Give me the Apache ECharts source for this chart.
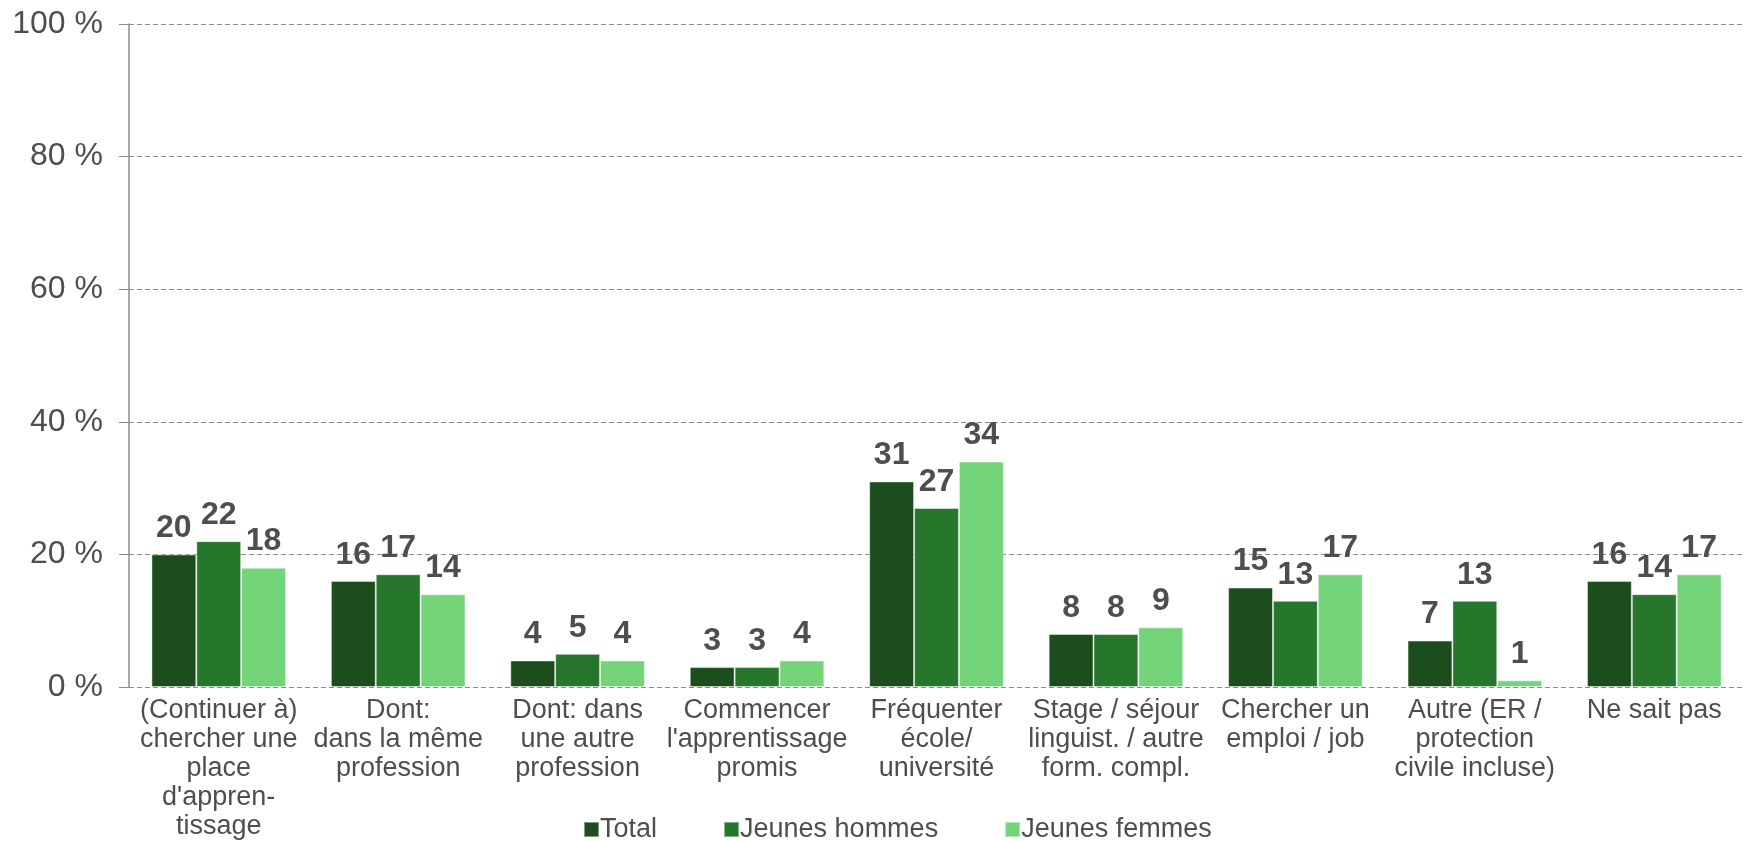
<!DOCTYPE html>
<html>
<head>
<meta charset="utf-8">
<script src="https://cdn.jsdelivr.net/npm/echarts@6/dist/echarts.min.js"></script>
<style>html,body{margin:0;padding:0;background:#fff}#c{width:1746px;height:841px}</style>
</head>
<body>
<div id="c"></div>
<script>
const categories = [
  "(Continuer à)\nchercher une\nplace\nd'appren-\ntissage",
  "Dont:\ndans la même\nprofession",
  "Dont: dans\nune autre\nprofession",
  "Commencer\nl'apprentissage\npromis",
  "Fréquenter\nécole/\nuniversité",
  "Stage / séjour\nlinguist. / autre\nform. compl.",
  "Chercher un\nemploi / job",
  "Autre (ER /\nprotection\ncivile incluse)",
  "Ne sait pas"
];
const seriesNames = ["Total", "Jeunes hommes", "Jeunes femmes"];
const total = [20, 16, 4, 3, 31, 8, 15, 7, 16];
const hommes = [22, 17, 5, 3, 27, 8, 13, 13, 14];
const femmes = [18, 14, 4, 4, 34, 9, 17, 1, 17];
const yTicks = [0, 20, 40, 60, 80, 100];

const colors = ["#1b4e1c", "#26762b", "#73d47a"];
const font = "'Liberation Sans', Arial, sans-serif";

function mk(name, data, color) {
  return {
    name: name,
    type: 'bar',
    data: data,
    barGap: '0%',
    barCategoryGap: '25%',
    itemStyle: { color: color, borderColor: 'rgba(255,255,255,0.45)', borderWidth: 1 },
    label: {
      show: true, position: 'top', distance: 10,
      fontFamily: font, fontSize: 32, fontWeight: 'bold', color: '#4d4f4d'
    }
  };
}

const chart = echarts.init(document.getElementById('c'), null, { renderer: 'canvas' });
chart.setOption({
  animation: false,
  backgroundColor: '#fff',
  grid: { left: 129, right: 2, top: 24, bottom: 154, containLabel: false, outerBoundsMode: 'none' },
  legend: {
    data: seriesNames,
    left: 578, top: 811,
    icon: 'rect', itemWidth: 15, itemHeight: 15, itemGap: 66,
    textStyle: { fontFamily: font, fontSize: 27, color: '#4d4f4d', padding: [0,0,0,-4] }
  },
  xAxis: {
    type: 'category',
    data: categories,
    axisLine: { show: false },
    axisTick: { show: false },
    axisLabel: {
      interval: 0, margin: 9,
      fontFamily: font, fontSize: 27, lineHeight: 29, color: '#4d4f4d', align: 'center'
    }
  },
  yAxis: {
    type: 'value',
    min: yTicks[0], max: yTicks[yTicks.length - 1], interval: yTicks[1] - yTicks[0],
    axisLine: { show: true, lineStyle: { color: '#8c8c8c', width: 1.5 } },
    axisTick: { show: true, length: 10, lineStyle: { color: '#8c8c8c' } },
    axisLabel: {
      formatter: '{value} %', margin: 26,
      fontFamily: font, fontSize: 32, color: '#4d4f4d'
    },
    splitLine: { show: true, lineStyle: { color: '#8c8c8c', type: [5, 3], width: 1 } }
  },
  series: [
    mk(seriesNames[0], total, colors[0]),
    mk(seriesNames[1], hommes, colors[1]),
    mk(seriesNames[2], femmes, colors[2])
  ]
});
</script>
</body>
</html>
